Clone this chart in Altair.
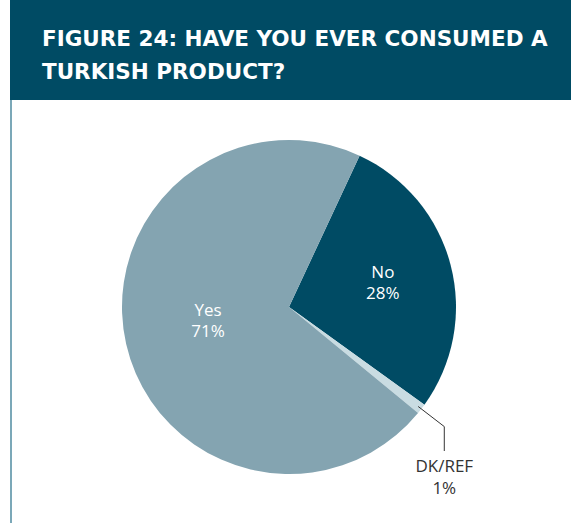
import math
import altair as alt
import pandas as pd

# ---- data ----
categories = ["No", "DK/REF", "Yes"]
values = [28, 1, 71]
labels = ["No\n28%", "DK/REF\n1%", "Yes\n71%"]
colors = ["#004b64", "#c9dce2", "#84a4b1"]
title_lines = ["FIGURE 24: HAVE YOU EVER CONSUMED A", "TURKISH PRODUCT?"]

df = pd.DataFrame({
    "category": categories,
    "value": values,
    "label": labels,
    "order": list(range(len(categories))),
})

W, H = 571, 523
CX, CY, R = 289, 307, 167
START = math.radians(25)

theta_scale = alt.Scale(range=[START, START + 2 * math.pi])
color_scale = alt.Scale(domain=categories, range=colors)

base = alt.Chart(df)

pie = base.mark_arc(outerRadius=R).encode(
    theta=alt.Theta("value:Q", stack=True, scale=theta_scale),
    color=alt.Color("category:N", scale=color_scale, legend=None),
    order=alt.Order("order:Q"),
    x=alt.value(CX),
    y=alt.value(CY),
)

# mid-angle of every slice as a fraction of the whole
mids = base.transform_window(
    cum="sum(value)", sort=[alt.SortField("order")]
).transform_joinaggregate(
    total="sum(value)"
).transform_calculate(
    mid="(datum.cum - datum.value / 2) / datum.total"
)

mid_scale = alt.Scale(domain=[0, 1], range=[START, START + 2 * math.pi])


def inner_label(which, radius, dy):
    return mids.transform_filter(alt.datum.category == which).mark_text(
        font="Open Sans", fontSize=17, color="white", lineBreak="\n",
        lineHeight=21, baseline="middle", align="center", dy=dy,
    ).encode(
        theta=alt.Theta("mid:Q", scale=mid_scale, stack=None),
        radius=alt.value(radius),
        text="label:N",
        x=alt.value(CX),
        y=alt.value(CY),
    )


text_no = inner_label("No", 97, -10)
text_yes = inner_label("Yes", 83, -14)

# leader line for the small slice, derived from the slice's mid angle
cum_before = sum(values[:1])
total = sum(values)
mid = START + (cum_before + values[1] / 2) / total * 2 * math.pi
x1, y1 = CX + 163 * math.sin(mid), CY - 163 * math.cos(mid)
x2, y2 = CX + 196 * math.sin(mid), CY - 196 * math.cos(mid)

lead = pd.DataFrame({"px": [x1, x2, x2], "py": [y1, y2, 451], "i": [0, 1, 2]})
leader = alt.Chart(lead).mark_line(color="#333333", strokeWidth=1).encode(
    x=alt.X("px:Q", scale=alt.Scale(domain=[0, W], range=[0, W]), axis=None),
    y=alt.Y("py:Q", scale=alt.Scale(domain=[0, H], range=[0, H]), axis=None),
    order="i:Q",
)

dk_text = base.transform_filter(alt.datum.category == "DK/REF").mark_text(
    font="Open Sans", fontSize=17, color="#333333", lineBreak="\n",
    lineHeight=22, baseline="middle", align="center",
).encode(text="label:N", x=alt.value(x2), y=alt.value(467))

header = alt.Chart(pd.DataFrame({"a": [0]})).mark_rect(color="#004b64").encode(
    x=alt.value(10), x2=alt.value(W), y=alt.value(0), y2=alt.value(100)
)
left_line = alt.Chart(pd.DataFrame({"a": [0]})).mark_rule(color="#4f8ba0", strokeWidth=1.5).encode(
    x=alt.value(11), y=alt.value(100), y2=alt.value(H)
)

title = alt.Chart(pd.DataFrame({"t": ["\n".join(title_lines)]})).mark_text(
    font="DejaVu Sans", fontSize=21.5, fontWeight="bold", color="white",
    align="left", baseline="alphabetic", lineBreak="\n", lineHeight=33,
).encode(text="t:N", x=alt.value(42), y=alt.value(46))

chart = alt.layer(
    header, left_line, pie, text_no, text_yes, leader, dk_text, title
).resolve_scale(
    theta="independent"
).properties(
    width=W, height=H, padding=0, autosize=alt.AutoSizeParams(type="none"),
    background="white",
).configure_view(stroke=None)

chart.save("out.html", embed_options={"renderer": "svg", "actions": False})
